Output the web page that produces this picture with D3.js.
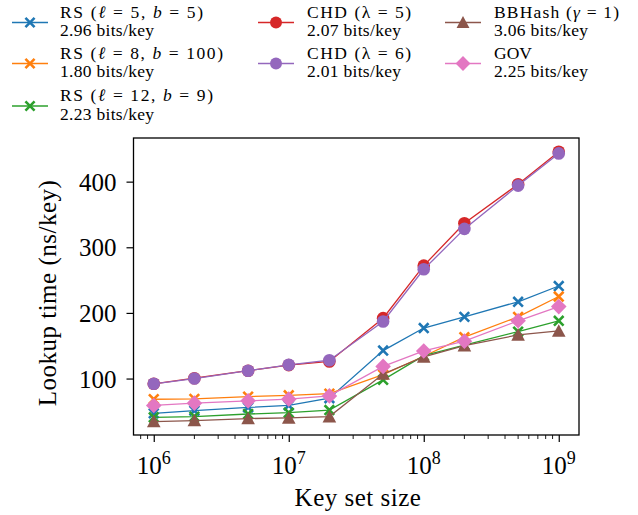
<!DOCTYPE html>
<html><head><meta charset="utf-8">
<script src="https://cdn.jsdelivr.net/npm/d3@7"></script>
<style>
html,body{margin:0;padding:0;background:#fff;}
svg text{font-family:"Liberation Serif","Times New Roman",serif;fill:#000;}
</style></head>
<body><svg id="c" width="638" height="515"></svg>
<script>
const sizes = [1e6, 2e6, 5e6, 1e7, 2e7, 5e7, 1e8, 2e8, 5e8, 1e9];
const rs5 = [47, 51, 56, 59, 70, 142.6, 177, 194, 217, 241];
const rs8 = [68.5, 69, 72.5, 74.5, 77, 106, 134, 163, 194, 225];
const rs12 = [41, 42, 46, 48, 52, 98, 135, 151, 171.5, 188];
const chd5 = [92, 100.5, 112, 120.5, 126, 192, 272, 336.5, 396, 445.5];
const chd6 = [92, 100, 112, 121, 128, 187, 266.5, 328, 394, 443];
const bbhash = [34.5, 36, 39, 40, 42, 107, 133, 150, 166.5, 172.5];
const gov = [59, 62.5, 66, 68.6, 73.6, 118.5, 142, 157, 188, 209.6];
const yTicks = [100, 200, 300, 400];
const xTicks = [1e6, 1e7, 1e8, 1e9];
const xLabel = "Key set size";
const yLabel = "Lookup time (ns/key)";

const series = [
  {name:[["RS (",""],["ℓ","i"],[" = 5, ",""],["b","i"],[" = 5)",""]], w:143, sub:"2.96 bits/key", values:rs5, color:"#1f77b4", marker:"x"},
  {name:[["RS (",""],["ℓ","i"],[" = 8, ",""],["b","i"],[" = 100)",""]], w:163, sub:"1.80 bits/key", values:rs8, color:"#ff7f0e", marker:"x"},
  {name:[["RS (",""],["ℓ","i"],[" = 12, ",""],["b","i"],[" = 9)",""]], w:153, sub:"2.23 bits/key", values:rs12, color:"#2ca02c", marker:"x"},
  {name:[["CHD (",""],["λ",""],[" = 5)",""]], w:104, sub:"2.07 bits/key", values:chd5, color:"#d62728", marker:"o"},
  {name:[["CHD (",""],["λ",""],[" = 6)",""]], w:104, sub:"2.01 bits/key", values:chd6, color:"#9467bd", marker:"o"},
  {name:[["BBHash (",""],["γ","i"],[" = 1)",""]], w:125, sub:"3.06 bits/key", values:bbhash, color:"#8c564b", marker:"^"},
  {name:[["GOV",""]], w:0, sub:"2.25 bits/key", values:gov, color:"#e377c2", marker:"D"}
];

const svg = d3.select("#c");
const L = 133.5, R = 579, T = 138, B = 435;
const x = d3.scaleLog().domain([Math.pow(10,5.85), Math.pow(10,9.15)]).range([L, R]);
const y = d3.scaleLinear().domain([14, 466.5]).range([B, T]);

// axes
const xAxis = d3.axisBottom(x).tickValues(xTicks).tickSize(7).tickPadding(4).tickFormat(()=>"");
const gx = svg.append("g").attr("transform",`translate(0,${B})`).call(xAxis);
gx.select(".domain").remove();
gx.selectAll(".tick line").attr("stroke","#000").attr("stroke-width",1.2);
// minor ticks
const minor = [];
for (let e=5; e<=9; e++) for (let m=2; m<=9; m++) { const v=m*Math.pow(10,e); if (v>=x.domain()[0] && v<=x.domain()[1]) minor.push(v); }
svg.append("g").selectAll("line").data(minor).join("line")
  .attr("x1",d=>x(d)).attr("x2",d=>x(d)).attr("y1",B).attr("y2",B+4)
  .attr("stroke","#000").attr("stroke-width",0.9);
// x tick labels with superscripts
xTicks.forEach(v=>{
  const e = Math.round(Math.log10(v));
  const t = svg.append("text").attr("x",x(v)).attr("y",474).attr("text-anchor","middle").style("font-size","25px");
  t.append("tspan").text("10");
  t.append("tspan").attr("dy",-10).style("font-size","18px").text(e);
});

const yAxis = d3.axisLeft(y).tickValues(yTicks).tickSize(7).tickPadding(10);
const gy = svg.append("g").attr("transform",`translate(${L},0)`).call(yAxis);
gy.select(".domain").remove();
gy.selectAll(".tick line").attr("stroke","#000").attr("stroke-width",1.2);
gy.selectAll(".tick text").style("font-size","25px").attr("dy","0.34em");

svg.append("text").attr("x",358).attr("y",506).attr("text-anchor","middle").style("font-size","25px").style("letter-spacing","0.5px").text(xLabel);
svg.append("text").attr("transform","translate(56,293) rotate(-90)").attr("text-anchor","middle").style("font-size","25px").style("letter-spacing","0.5px").text(yLabel);

// markers
function drawMarker(g, type, color, cx, cy, scale=1) {
  if (type==="x") {
    const s=4.8*scale;
    g.append("path").attr("d",`M${cx-s},${cy-s}L${cx+s},${cy+s}M${cx-s},${cy+s}L${cx+s},${cy-s}`)
      .attr("stroke",color).attr("stroke-width",2.6).attr("fill","none");
  } else if (type==="o") {
    g.append("circle").attr("cx",cx).attr("cy",cy).attr("r",6.3*scale).attr("fill",color);
  } else if (type==="^") {
    const s=6.8*scale;
    g.append("path").attr("d",`M${cx},${cy-s}L${cx+s},${cy+s*0.85}L${cx-s},${cy+s*0.85}Z`).attr("fill",color);
  } else if (type==="D") {
    const s=7.8*scale;
    g.append("path").attr("d",`M${cx},${cy-s}L${cx+s},${cy}L${cx},${cy+s}L${cx-s},${cy}Z`).attr("fill",color);
  }
}

const plot = svg.append("g");
const line = d3.line().x(d=>x(d[0])).y(d=>y(d[1]));
series.forEach(s=>{
  const g = plot.append("g");
  const pts = sizes.map((v,i)=>[v,s.values[i]]);
  g.append("path").attr("d",line(pts)).attr("fill","none").attr("stroke",s.color).attr("stroke-width",1.3);
  pts.forEach(p=>drawMarker(g, s.marker, s.color, x(p[0]), y(p[1])));
});

// frame
svg.append("rect").attr("x",L).attr("y",T).attr("width",R-L).attr("height",B-T)
  .attr("fill","none").attr("stroke","#000").attr("stroke-width",1.3);

// legend
const cols = [{lx:12, tx:60},{lx:258, tx:307},{lx:445, tx:494}];
const rows = [22.5, 63.5, 106];
const layout = [[0,0],[0,1],[0,2],[1,0],[1,1],[2,0],[2,1]];
series.forEach((s,i)=>{
  const [c,r] = layout[i];
  const col = cols[c], cy = rows[r];
  const g = svg.append("g");
  g.append("line").attr("x1",col.lx).attr("x2",col.lx+36).attr("y1",cy).attr("y2",cy).attr("stroke",s.color).attr("stroke-width",1.3);
  drawMarker(g, s.marker, s.color, col.lx+18, cy, 0.95);
  const t1 = g.append("text").attr("x",col.tx).attr("y",cy-5).style("font-size","17.5px");
  if (s.w) t1.attr("textLength", s.w).attr("lengthAdjust","spacing");
  s.name.forEach(([txt,st])=>{ const sp=t1.append("tspan").text(txt); if(st==="i") sp.style("font-style","italic"); });
  g.append("text").attr("x",col.tx).attr("y",cy+13.5).style("font-size","17.5px").style("letter-spacing","0.3px").text(s.sub);
});
</script></body></html>
